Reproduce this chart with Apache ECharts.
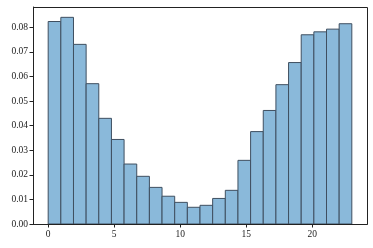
<!DOCTYPE html>
<html><head><meta charset="utf-8">
<script src="https://cdn.jsdelivr.net/npm/echarts@6/dist/echarts.min.js"></script>
<style>html,body{margin:0;padding:0;background:#fff}#c{width:373px;height:248px}</style>
</head><body><div id="c"></div>
<script>
// Histogram: 24 bins spanning 0..23 (density)
const binStart = 0;
const binEnd = 23;
const density = [0.0824, 0.0841, 0.0731, 0.0571, 0.0430, 0.0344, 0.0244, 0.0194,
                 0.0149, 0.0113, 0.0088, 0.0068, 0.0076, 0.0104, 0.0137, 0.0259,
                 0.0376, 0.0462, 0.0567, 0.0657, 0.0770, 0.0782, 0.0793, 0.0815];
const xTicks = [0, 5, 10, 15, 20];
const yTicks = [0.00, 0.01, 0.02, 0.03, 0.04, 0.05, 0.06, 0.07, 0.08];

const w = (binEnd - binStart) / density.length;
const bins = density.map((d, i) => [binStart + i * w, binStart + (i + 1) * w, d]);
const span = binEnd - binStart;
const ymax = Math.max(...density) * 1.05;

const chart = echarts.init(document.getElementById('c'), null, {renderer: 'canvas'});
const font = 'Liberation Serif';
chart.setOption({
  animation: false,
  grid: {left: 33, right: 6, top: 7, bottom: 24, containLabel: false},
  xAxis: {
    type: 'value', min: binStart - span * 0.05, max: binEnd + span * 0.05,
    axisLine: {show: true, onZero: false, lineStyle: {color: '#222', width: 1}},
    axisTick: {show: true, length: 3.5, lineStyle: {color: '#222'},
      customValues: xTicks},
    axisLabel: {fontFamily: font, fontSize: 9.5, color: '#222', margin: 5,
      customValues: xTicks, formatter: v => String(v)},
    splitLine: {show: false}
  },
  yAxis: {
    type: 'value', min: 0, max: ymax,
    axisLine: {show: true, onZero: false, lineStyle: {color: '#222', width: 1}},
    axisTick: {show: true, length: 3.5, lineStyle: {color: '#222'},
      customValues: yTicks},
    axisLabel: {fontFamily: font, fontSize: 9.5, color: '#222', margin: 5,
      customValues: yTicks, formatter: v => v.toFixed(2)},
    splitLine: {show: false}
  },
  series: [{
    type: 'custom',
    data: bins,
    encode: {x: [0, 1], y: 2},
    renderItem: function (params, api) {
      const p0 = api.coord([api.value(0), 0]);
      const p1 = api.coord([api.value(1), api.value(2)]);
      return {
        type: 'rect',
        shape: {x: p0[0], y: p1[1], width: p1[0] - p0[0], height: p0[1] - p1[1]},
        style: {fill: '#8ab9da', stroke: '#3f4f60', lineWidth: 1}
      };
    }
  }],
  graphic: [{
    type: 'rect', x: 33.5, y: 7.5, z: 100, silent: true,
    shape: {width: 373 - 33 - 6, height: 248 - 7 - 24},
    style: {fill: 'none', stroke: '#222', lineWidth: 1}
  }]
});
</script></body></html>
